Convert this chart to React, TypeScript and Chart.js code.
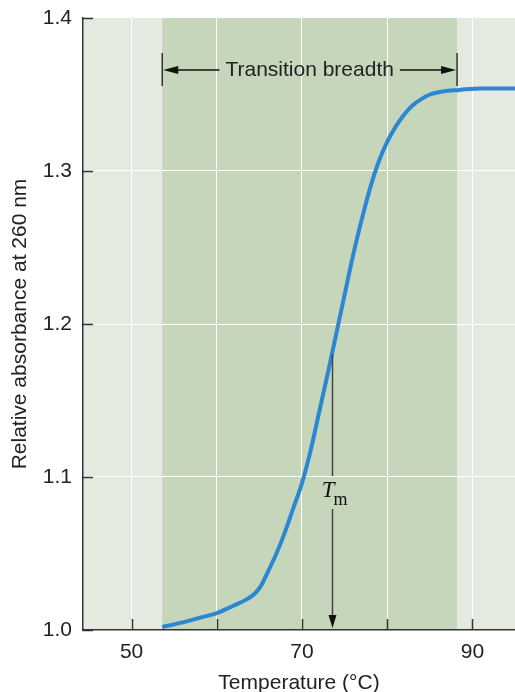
import React, { useEffect, useRef } from 'react';
import { Chart, registerables } from 'chart.js';

Chart.register(...registerables);

// Data
const temperatures = [53.6, 56, 58, 60, 62, 63.5, 64.5, 65.2, 66, 67, 68, 69, 70, 71, 72, 73, 74, 75, 76, 77, 78, 79, 80, 81, 82, 83, 84, 85, 86.5, 88.5, 91, 95];
const absorbance = [1.002, 1.005, 1.008, 1.011, 1.016, 1.02, 1.024, 1.029, 1.038, 1.05, 1.064, 1.08, 1.096, 1.117, 1.142, 1.167, 1.193, 1.219, 1.245, 1.268, 1.289, 1.306, 1.319, 1.329, 1.337, 1.343, 1.347, 1.35, 1.352, 1.353, 1.354, 1.354];

const xTicks = [50, 60, 70, 80, 90];
const xLabeled = [50, 70, 90];
const yTicks = [1.0, 1.1, 1.2, 1.3, 1.4];
const xRange = [44.3, 95];
const yRange = [1.0, 1.4];
const transitionBand = [53.6, 88.2];
const tmTemp = 73.5;
const tmAbs = 1.18;
const bracketAbs = 1.366;

const FONT = "'Liberation Sans', Arial, sans-serif";
const TEXT = '#222';
const LINE = '#333';

const decorPlugin = {
  id: 'decor',
  beforeDraw(chart: any) {
    const { ctx, chartArea, scales } = chart;
    const { left, right, top, bottom } = chartArea;
    const x = scales.x;
    ctx.save();
    ctx.fillStyle = '#e4eae0';
    ctx.fillRect(left, top, right - left, bottom - top);
    const b0 = x.getPixelForValue(transitionBand[0]);
    const b1 = x.getPixelForValue(transitionBand[1]);
    ctx.fillStyle = '#c6d6bb';
    ctx.fillRect(b0, top, b1 - b0, bottom - top);
    ctx.restore();
  },
  afterDraw(chart: any) {
    const { ctx, chartArea, scales } = chart;
    const { left, bottom } = chartArea;
    const x = scales.x;
    const y = scales.y;
    ctx.save();
    // inside tick marks
    ctx.strokeStyle = LINE;
    ctx.lineWidth = 1.5;
    ctx.beginPath();
    xTicks.forEach((v) => {
      const px = Math.round(x.getPixelForValue(v)) + 0.5;
      ctx.moveTo(px, bottom);
      ctx.lineTo(px, bottom - 11);
    });
    yTicks.forEach((v) => {
      const py = Math.round(y.getPixelForValue(v)) + 0.5;
      ctx.moveTo(left, py);
      ctx.lineTo(left + 10, py);
    });
    ctx.stroke();

    // Transition breadth bracket
    const b0 = x.getPixelForValue(transitionBand[0]);
    const b1 = x.getPixelForValue(transitionBand[1]);
    const by = y.getPixelForValue(bracketAbs);
    ctx.strokeStyle = LINE;
    ctx.lineWidth = 1.5;
    ctx.beginPath();
    ctx.moveTo(b0, by - 17);
    ctx.lineTo(b0, by + 16);
    ctx.moveTo(b1, by - 17);
    ctx.lineTo(b1, by + 16);
    ctx.stroke();
    const label = 'Transition breadth';
    ctx.font = `21px ${FONT}`;
    const tw = ctx.measureText(label).width;
    const cx = (b0 + b1) / 2;
    ctx.fillStyle = TEXT;
    ctx.textAlign = 'center';
    ctx.textBaseline = 'middle';
    ctx.fillText(label, cx, by);
    ctx.strokeStyle = '#111';
    ctx.lineWidth = 1.3;
    ctx.beginPath();
    ctx.moveTo(b0 + 10, by);
    ctx.lineTo(cx - tw / 2 - 6, by);
    ctx.moveTo(cx + tw / 2 + 6, by);
    ctx.lineTo(b1 - 10, by);
    ctx.stroke();
    ctx.fillStyle = '#111';
    ctx.beginPath();
    ctx.moveTo(b0 + 1, by);
    ctx.lineTo(b0 + 16, by - 4);
    ctx.lineTo(b0 + 16, by + 4);
    ctx.closePath();
    ctx.fill();
    ctx.beginPath();
    ctx.moveTo(b1 - 1, by);
    ctx.lineTo(b1 - 16, by - 4);
    ctx.lineTo(b1 - 16, by + 4);
    ctx.closePath();
    ctx.fill();

    // Tm arrow
    const tx = Math.round(x.getPixelForValue(tmTemp)) + 0.5;
    const ty = y.getPixelForValue(tmAbs);
    const gy = y.getPixelForValue(1.1);
    ctx.strokeStyle = '#444';
    ctx.lineWidth = 1.5;
    ctx.beginPath();
    ctx.moveTo(tx, ty);
    ctx.lineTo(tx, gy - 1);
    ctx.moveTo(tx, gy + 32);
    ctx.lineTo(tx, bottom - 12);
    ctx.stroke();
    ctx.fillStyle = '#111';
    ctx.beginPath();
    ctx.moveTo(tx, bottom - 2);
    ctx.lineTo(tx - 4, bottom - 15);
    ctx.lineTo(tx + 4, bottom - 15);
    ctx.closePath();
    ctx.fill();
    ctx.fillStyle = '#111';
    ctx.textBaseline = 'alphabetic';
    ctx.textAlign = 'right';
    ctx.font = "italic 23px 'Liberation Serif', 'DejaVu Serif', serif";
    ctx.fillText('T', tx + 2, gy + 20);
    ctx.textAlign = 'left';
    ctx.font = "18px 'Liberation Serif', 'DejaVu Serif', serif";
    ctx.fillText('m', tx + 1, gy + 28);
    ctx.restore();
  },
};

export default function App() {
  const ref = useRef<HTMLCanvasElement>(null);
  useEffect(() => {
    if (!ref.current) return;
    const chart = new Chart(ref.current, {
      type: 'line',
      data: {
        datasets: [
          {
            data: temperatures.map((t, i) => ({ x: t, y: absorbance[i] })),
            borderColor: '#2b87d1',
            borderWidth: 4,
            pointRadius: 0,
            cubicInterpolationMode: 'monotone',
            fill: false,
          },
        ],
      },
      options: {
        responsive: false,
        animation: false,
        events: [],
        layout: { padding: { top: 18, right: 0, left: 0, bottom: 0 } },
        plugins: { legend: { display: false }, tooltip: { enabled: false } },
        scales: {
          x: {
            type: 'linear',
            min: xRange[0],
            max: xRange[1],
            afterBuildTicks: (s: any) => {
              s.ticks = xTicks.map((v) => ({ value: v }));
            },
            afterFit: (s: any) => {
              s.height = 62;
              s.paddingLeft = 0;
              s.paddingRight = 0;
            },
            grid: {
              color: '#ffffff',
              lineWidth: 1,
              drawTicks: false,
            },
            border: { display: true, color: LINE, width: 1.5 },
            ticks: {
              padding: 10,
              color: TEXT,
              font: { size: 21, family: FONT },
              maxRotation: 0,
              autoSkip: false,
              callback: (v: any) => (xLabeled.includes(Number(v)) ? String(v) : ''),
            },
            title: {
              display: true,
              text: 'Temperature (°C)',
              color: TEXT,
              font: { size: 21, family: FONT, lineHeight: 1 },
              padding: { top: 0, bottom: -2 },
            },
          },
          y: {
            type: 'linear',
            min: yRange[0],
            max: yRange[1],
            afterBuildTicks: (s: any) => {
              s.ticks = yTicks.map((v) => ({ value: v }));
            },
            afterFit: (s: any) => {
              s.width = 83;
              s.paddingTop = 0;
              s.paddingBottom = 0;
            },
            grid: {
              color: (c: any) => (c.index === 0 || c.index === yTicks.length - 1 ? 'rgba(0,0,0,0)' : '#ffffff'),
              lineWidth: 1,
              drawTicks: false,
            },
            border: { display: true, color: LINE, width: 1.5 },
            ticks: {
              padding: 11,
              color: TEXT,
              font: { size: 21, family: FONT },
              callback: (v: any) => Number(v).toFixed(1),
            },
            title: {
              display: true,
              text: 'Relative absorbance at 260 nm',
              color: TEXT,
              font: { size: 21, family: FONT, lineHeight: 1.2 },
              padding: { top: 8, bottom: 0 },
            },
          },
        },
      },
      plugins: [decorPlugin],
    });
    return () => chart.destroy();
  }, []);
  return (
    <div style={{ position: 'fixed', left: 0, top: 0, width: 515, height: 692, background: '#fff' }}>
      <canvas ref={ref} width={515} height={692} />
    </div>
  );
}
